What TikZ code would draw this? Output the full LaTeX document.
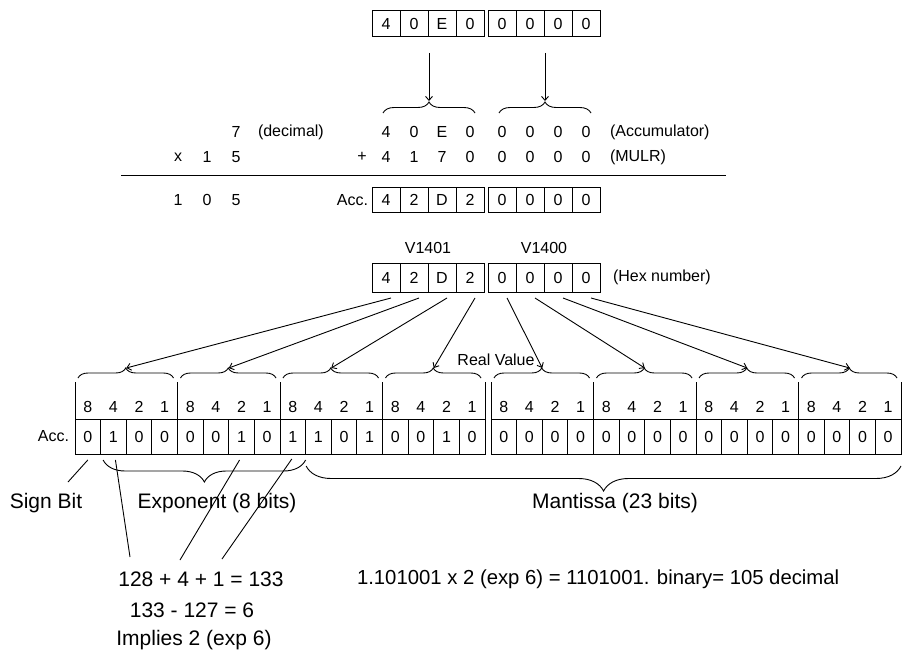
\documentclass[tikz,border=0pt]{standalone}
\usepackage{fontspec}
\setmainfont{Liberation Sans}
\usetikzlibrary{arrows.meta,decorations.pathreplacing,calc}
\begin{document}
\begin{tikzpicture}[x=1pt,y=-1pt,
  every node/.style={inner sep=0pt,outer sep=0pt},
  sm/.style={font=\fontsize{16}{19}\selectfont},
  lg/.style={font=\fontsize{21}{25}\selectfont},
  hexcell/.style={draw,line width=1pt,minimum width=28pt,sm},
  bitcell/.style={draw,line width=1pt,minimum width=25.625pt,minimum height=35pt,sm},
  lbl/.style={sm},
  conn/.style={line width=0.9pt},
  arr/.style={conn,-{Straight Barb[length=4pt,width=7pt]}},
  brc/.style={decorate,line width=0.9pt,decoration={brace,amplitude=#1}},
  brcd/.style={decorate,line width=0.9pt,decoration={brace,mirror,amplitude=#1}},
]
\useasboundingbox (0,0) rectangle (902,650);

% top hex box
\foreach \d [count=\i from 0] in {4,0,E,0,0,0,0,0}{
  \pgfmathsetmacro\xx{\i<4 ? 386+28*\i : 502+28*(\i-4)}
  \node[hexcell,minimum height=26pt] (t\i) at (\xx,24) {\d};
}
\coordinate (srcA) at (429,53);
\coordinate (srcB) at (545,53);
\coordinate (tipA) at (429,101);
\coordinate (tipB) at (545,101);
\draw[brc=11pt] (383,113) -- (475,113);
\draw[brc=11pt] (499,113) -- (591,113);
\draw[arr] (srcA) -- (tipA);
\draw[arr] (srcB) -- (tipB);

% addition rows
\foreach \d [count=\i from 0] in {4,0,E,0,0,0,0,0}{
  \pgfmathsetmacro\xx{\i<4 ? 386+28*\i : 502+28*(\i-4)}
  \node[lbl] (p\i) at (\xx,132) {\d};
}
\foreach \d [count=\i from 0] in {4,1,7,0,0,0,0,0}{
  \pgfmathsetmacro\xx{\i<4 ? 386+28*\i : 502+28*(\i-4)}
  \node[lbl] (q\i) at (\xx,157) {\d};
}
\node[lbl] (seven) at (236,132) {7};
\node[lbl,anchor=west] (dec) at (258,132) {(decimal)};
\node[lbl,anchor=west] (accu) at (610,132) {(Accumulator)};
\node[lbl] (mx) at (178,157) {x};
\node[lbl] (m1) at (207,157) {1};
\node[lbl] (m5) at (236,157) {5};
\node[lbl] (plus) at (362,157) {+};
\node[lbl,anchor=west] (mulr) at (610,157) {(MULR)};
\coordinate (ruleL) at (121,175.5);
\coordinate (ruleR) at (726,175.5);
\draw[conn] (ruleL) -- (ruleR);
\node[lbl] (r1) at (178,200) {1};
\node[lbl] (r0) at (207,200) {0};
\node[lbl] (r5) at (236,200) {5};
\node[lbl,anchor=east] (acclbl) at (368,200) {Acc.};
\foreach \d [count=\i from 0] in {4,2,D,2,0,0,0,0}{
  \pgfmathsetmacro\xx{\i<4 ? 386+28*\i : 502+28*(\i-4)}
  \node[hexcell,minimum height=25pt] (a\i) at (\xx,200) {\d};
}

% V1401 / V1400 box
\foreach \d [count=\i from 0] in {4,2,D,2,0,0,0,0}{
  \pgfmathsetmacro\xx{\i<4 ? 386+28*\i : 502+28*(\i-4)}
  \node[hexcell,minimum height=29pt] (v\i) at (\xx,277.5) {\d};
}
\node[lbl] (vl1) at (428,248) {V1401};
\node[lbl] (vl0) at (544,248) {V1400};
\node[lbl,anchor=west] (hexn) at (613,277.5) {(Hex number)};

% bit row
\foreach \d [count=\i from 0] in {0,1,0,0,0,0,1,0,1,1,0,1,0,0,1,0,0,0,0,0,0,0,0,0,0,0,0,0,0,0,0,0}{
  \pgfmathsetmacro\xx{\i<16 ? 75+25.625*(\i+0.5) : 491+25.625*(\i-16+0.5)}
  \node[bitcell] (b\i) at (\xx,436.5) {\d};
}
\foreach \w [count=\i from 0] in {8,4,2,1,8,4,2,1,8,4,2,1,8,4,2,1,8,4,2,1,8,4,2,1,8,4,2,1,8,4,2,1}{
  \pgfmathsetmacro\xx{\i<16 ? 75+25.625*(\i+0.5) : 491+25.625*(\i-16+0.5)}
  \node[lbl] (h\i) at (\xx,407) {\w};
}
\node[lbl,anchor=east] (accb) at (69,436.5) {Acc.};
\foreach \g in {0,...,7}{
  \pgfmathtruncatemacro\ga{4*\g}
  \pgfmathtruncatemacro\gb{4*\g+3}
  \draw[line width=1pt] (b\ga.north west) -- ++(0,-37);
  \draw[brc=10pt] ($(b\ga.north west)+(3,-41)$) -- ($(b\gb.north east)+(-4,-41)$);
  \coordinate (g\g) at ($(b\ga.north west)!0.5!(b\gb.north east)+(0,-51)$);
}
\draw[line width=1pt] (b15.north east) -- ++(0,-37);
\draw[line width=1pt] (b31.north east) -- ++(0,-37);
\node[lbl] (real) at (496,360) {Real Value};

% arrows from hex digits to nibbles
\foreach \i in {0,...,7}{
  \coordinate (s\i) at ($(v\i.south)+(5,6)$);
  \draw[arr] (s\i) -- (g\i);
}

% lower braces and labels
\draw[brcd=22pt] ($(b1.south west)+(2.5,6)$) -- ($(b9.south west)+(0,6)$);
\draw[brcd=25pt] ($(b9.south west)+(0.5,12)$) -- ($(b31.south east)+(0,12)$);
\node[lg] (sign) at (46,503) {Sign Bit};
\node[lg] (expo) at (217,503) {Exponent (8 bits)};
\node[lg] (mant) at (615,503) {Mantissa (23 bits)};
\coordinate (signEnd) at (68,482);
\draw[conn] ($(b0.south)+(0,6)$) -- (signEnd);

\node[lg] (calc1) at (201,579) {128 + 4 + 1 = 133};
\node[lg] (calc2) at (192,610) {133 - 127 = 6};
\node[lg] (calc3) at (194,640) {Implies 2 (exp 6)};
\node[anchor=west,font=\fontsize{20.3}{24}\selectfont] (mcalc) at (357,579) {1.101001 x 2 (exp 6) = 1101001. binary= 105 decimal};
\coordinate (e1) at (130,557);
\coordinate (e2) at (180,560);
\coordinate (e3) at (222,559);
\draw[conn] ($(b1.south)+(2,6)$) -- (e1);
\draw[conn] ($(b6.south)+(-2,6)$) -- (e2);
\draw[conn] ($(b8.south)+(-1,5)$) -- (e3);
\end{tikzpicture}
\end{document}
